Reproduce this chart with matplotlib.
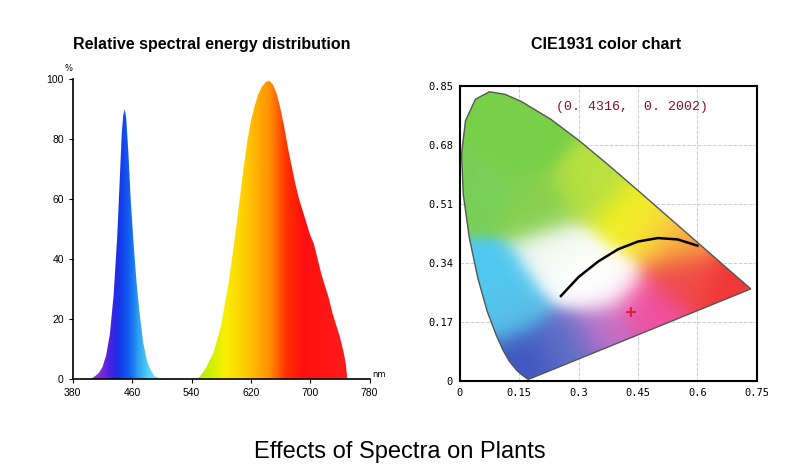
import numpy as np
import matplotlib
matplotlib.use("Agg")
import matplotlib.pyplot as plt
from matplotlib.colors import LinearSegmentedColormap, to_rgb
from matplotlib.patches import Polygon

# ---- data ----
blue_wl = [405, 410, 415, 420, 425, 430, 435, 440, 443, 446, 448, 450, 452, 455, 458, 462, 466, 470, 475, 480, 485, 490, 500]
blue_val = [0, 1, 2, 4, 8, 15, 28, 48, 65, 82, 88, 90, 87, 75, 60, 45, 32, 22, 12, 6, 3, 1, 0]
red_wl = [548, 555, 560, 570, 580, 590, 600, 605, 610, 615, 620, 625, 630, 635, 640, 645, 650, 655, 660, 665,
          670, 675, 680, 685, 690, 695, 700, 705, 710, 715, 720, 725, 730, 735, 740, 745, 748, 750]
red_val = [0, 2, 4, 9, 18, 32, 50, 60, 70, 79, 86, 91, 95, 97.5, 99, 99.5, 98, 95, 90, 84,
           77, 71, 65, 60, 56, 52, 48, 45, 40, 35, 31, 27, 22, 18, 14, 9, 5, 0]
x_ticks = [380, 460, 540, 620, 700, 780]
y_ticks = [0, 20, 40, 60, 80, 100]

locus_x = [0.1741, 0.1714, 0.1644, 0.1566, 0.1440, 0.1241, 0.1096, 0.0913, 0.0687, 0.0454, 0.0235, 0.0082,
           0.0039, 0.0139, 0.0389, 0.0743, 0.1142, 0.1547, 0.2296, 0.3016, 0.3731, 0.4441, 0.5125, 0.5752,
           0.6270, 0.6915, 0.7260, 0.7347]
locus_y = [0.0050, 0.0051, 0.0109, 0.0177, 0.0297, 0.0578, 0.0868, 0.1327, 0.2007, 0.2950, 0.4127, 0.5384,
           0.6548, 0.7502, 0.8120, 0.8338, 0.8262, 0.8059, 0.7543, 0.6923, 0.6245, 0.5547, 0.4866, 0.4242,
           0.3725, 0.3083, 0.2740, 0.2653]
planck_x = [0.255, 0.30, 0.35, 0.40, 0.45, 0.50, 0.55, 0.60]
planck_y = [0.245, 0.30, 0.345, 0.38, 0.402, 0.412, 0.408, 0.39]
point = (0.4316, 0.2002)
cie_xticks = [0, 0.15, 0.3, 0.45, 0.6, 0.75]
cie_xlabels = ["0", "0.15", "0.3", "0.45", "0.6", "0.75"]
cie_yticks = [0, 0.17, 0.34, 0.51, 0.68, 0.85]
cie_ylabels = ["0", "0.17", "0.34", "0.51", "0.68", "0.85"]

fig = plt.figure(figsize=(8, 4.68), dpi=100)
sans = "Liberation Sans"

# ---- left: spectrum ----
ax = fig.add_axes([0.091, 0.190, 0.371, 0.641])
def wpos(w):
    return (w - 380) / 400
spec_cmap = LinearSegmentedColormap.from_list("spec", [
    (0.0, "#9a30d0"), (wpos(412), "#8a30d8"), (wpos(428), "#5020e0"), (wpos(440), "#1830e8"),
    (wpos(455), "#1060f0"), (wpos(468), "#30a0f0"), (wpos(480), "#50d0f8"), (wpos(495), "#80e8ff"),
    (wpos(555), "#b8f000"), (wpos(585), "#f8f000"), (wpos(615), "#ffc800"), (wpos(645), "#ff9000"),
    (wpos(668), "#ff3000"), (wpos(690), "#ff1010"), (1.0, "#ff2020")])
grad = np.linspace(0, 1, 800).reshape(1, -1)
for wl, val in [(blue_wl, blue_val), (red_wl, red_val)]:
    poly = ax.fill(wl, val, facecolor="none", edgecolor="none")[0]
    im = ax.imshow(grad, extent=[380, 780, 0, 100], aspect="auto", cmap=spec_cmap, origin="lower")
    im.set_clip_path(poly)
ax.set_xlim(380, 780)
ax.set_ylim(0, 100)
ax.set_xticks(x_ticks)
ax.set_yticks(y_ticks)
for s in ["top", "right"]:
    ax.spines[s].set_visible(False)
for s in ["left", "bottom"]:
    ax.spines[s].set_linewidth(1.2)
ax.tick_params(direction="out", length=3, labelsize=7.5)
for lab in ax.get_xticklabels() + ax.get_yticklabels():
    lab.set_fontfamily(sans)
ax.text(0, 1.02, "%", transform=ax.transAxes, fontsize=6, ha="right", va="bottom")
ax.text(1.01, 0.0, "nm", transform=ax.transAxes, fontsize=6, ha="left", va="bottom")
fig.text(0.265, 0.905, "Relative spectral energy distribution", ha="center", va="center",
         fontsize=11.5, fontweight="bold", family=sans)

# ---- right: CIE ----
ax2 = fig.add_axes([0.575, 0.186, 0.371, 0.630])
anchors = [((0.15, 0.68), "#78d048"), ((0.05, 0.55), "#78d058"), ((0.2, 0.5), "#88d050"),
           ((0.3, 0.32), "#ffffff"), ((0.36, 0.28), "#ffffff"), ((0.25, 0.37), "#f4f8f4"),
           ((0.08, 0.28), "#50c8f0"), ((0.12, 0.2), "#58c0e8"), ((0.17, 0.07), "#4058c0"),
           ((0.27, 0.1), "#6070c8"), ((0.37, 0.14), "#c070c8"), ((0.47, 0.2), "#f050a0"),
           ((0.57, 0.3), "#f04848"), ((0.69, 0.28), "#f03838"), ((0.43, 0.47), "#f0f020"),
           ((0.5, 0.44), "#f8e040"), ((0.56, 0.4), "#f8a040"), ((0.33, 0.55), "#b8e040")]
xs = np.linspace(0, 0.75, 300)
ys = np.linspace(0, 0.85, 300)
X, Y = np.meshgrid(xs, ys)
num = np.zeros(X.shape + (3,))
den = np.zeros(X.shape)
for (ax_, ay_), c in anchors:
    w = np.exp(-((X - ax_) ** 2 + (Y - ay_) ** 2) / 0.07 ** 2) + 1e-9
    num += w[..., None] * np.array(to_rgb(c))
    den += w
rgb = np.clip(num / den[..., None], 0, 1)
img = ax2.imshow(rgb, extent=[0, 0.75, 0, 0.85], origin="lower", aspect="auto", zorder=1)
loc = Polygon(np.column_stack([locus_x, locus_y]), closed=True, facecolor="none",
              edgecolor="#555555", linewidth=1.0, zorder=3)
ax2.add_patch(loc)
img.set_clip_path(loc)
ax2.plot(planck_x, planck_y, color="black", linewidth=1.8, zorder=4)
ax2.plot(point[0], point[1], marker="+", color="#e0203a", markersize=7, mew=1.5, zorder=5)
ax2.text(0.58, 0.93, "(0. 4316,  0. 2002)", transform=ax2.transAxes, ha="center", va="center",
         fontsize=9.5, color="#8b1020", family="Liberation Mono")
ax2.set_xlim(0, 0.75)
ax2.set_ylim(0, 0.85)
ax2.set_xticks(cie_xticks)
ax2.set_xticklabels(cie_xlabels)
ax2.set_yticks(cie_yticks)
ax2.set_yticklabels(cie_ylabels)
ax2.grid(True, linestyle="--", color="#cccccc", linewidth=0.7, zorder=0)
ax2.set_axisbelow(True)
ax2.tick_params(length=0, labelsize=7.5, pad=5)
for lab in ax2.get_xticklabels() + ax2.get_yticklabels():
    lab.set_fontfamily("DejaVu Sans Mono")
for s in ax2.spines.values():
    s.set_linewidth(1.5)
fig.text(0.757, 0.905, "CIE1931 color chart", ha="center", va="center",
         fontsize=11.5, fontweight="bold", family=sans)

fig.text(0.5, 0.035, "Effects of Spectra on Plants", ha="center", va="center",
         fontsize=17, family=sans)

fig.savefig("out.png", dpi=100)
